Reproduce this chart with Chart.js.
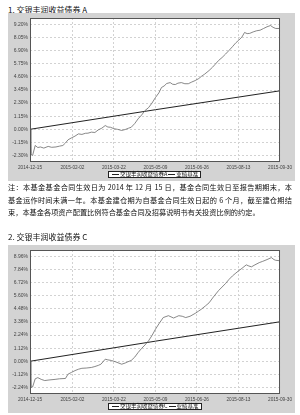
<!DOCTYPE html>
<html><head><meta charset="utf-8">
<script src="https://cdn.jsdelivr.net/npm/chart.js@4"></script>
<style>
body{margin:0;width:300px;height:415px;position:relative;background:#fff;font-family:"Noto Sans CJK SC",sans-serif;color:#111;overflow:hidden}
.t{position:absolute;left:8px;font-size:8px;line-height:10px}
.box{position:absolute;left:8px}
.lg{position:absolute;left:108px;border:1px solid #222;background:#fff;font-size:5.5px;line-height:5px;height:5px;padding:0 2px;white-space:nowrap;display:flex;align-items:center}
.lg i{display:inline-block;width:7px;height:0;border-top:1px solid #222;margin:0 1px}
.note{position:absolute;left:8px;width:284px;font-size:7.2px;line-height:12.5px}
.note div{text-align:justify;text-align-last:justify}
.note div.last{text-align-last:left}
</style></head><body>
<div class="t" style="top:5px">1. 交银丰润收益债券 A</div>
<canvas id="c1" class="box" width="287" height="168" style="top:13px"></canvas>
<div class="lg" style="top:171px"><i></i>交银丰润收益债券A<i></i>业绩基准</div>
<div class="note" style="top:181px">
<div>注：本基金基金合同生效日为 2014 年 12 月 15 日，基金合同生效日至报告期期末，本</div>
<div>基金运作时间未满一年。本基金建仓期为自基金合同生效日起的 6 个月，截至建仓期结</div>
<div class="last">束，本基金各项资产配置比例符合基金合同及招募说明书有关投资比例的约定。</div>
</div>
<div class="t" style="top:232px">2. 交银丰润收益债券 C</div>
<canvas id="c2" class="box" width="287" height="168" style="top:245px"></canvas>
<div class="lg" style="top:403px"><i></i>交银丰润收益债券C<i></i>业绩基准</div>
<script>
// 日期刻度
const dateLabels = ['2014-12-15','2015-02-02','2015-03-22','2015-05-09','2015-06-26','2015-08-13','2015-09-30'];
const tickDays = [0,49,97,145,193,241,289];

const yTicksA = [-2.30,-1.15,0,1.15,2.30,3.45,4.60,5.75,6.90,8.05,9.20];
const yTicksC = [-2.24,-1.12,0,1.12,2.24,3.36,4.48,5.60,6.72,7.84,8.96];

// 交银丰润收益债券A
const daysA = [0,1,3,6,9,12,16,21,25,30,34,38,41,44,48,52,56,60,64,67,71,75,79,83,87,90,93,97,101,106,110,114,117,121,125,129,133,137,141,145,149,152,155,158,162,165,168,171,175,179,183,187,191,195,198,202,207,211,214,218,222,226,230,234,238,241,245,248,251,254,258,262,266,270,274,278,281,284,289];
const fundA = [0,-2.15,-2.3,-1.42,-1.6,-1.55,-1.65,-1.5,-1.58,-1.55,-1.48,-1.42,-1.2,-0.92,-0.75,-0.6,-0.4,-0.45,-0.35,-0.34,-0.25,-0.28,-0.05,0.1,0.33,0.2,0.18,0.05,0,-0.1,-0.02,0.1,0.18,0.5,0.92,1.25,1.65,1.9,2.3,2.79,3.2,3.67,3.8,4.02,4.1,3.95,3.93,4.05,4.1,4.0,4.0,4.15,4.28,4.45,4.64,4.85,5.16,5.45,5.7,6.04,6.3,6.6,6.92,7.25,7.6,7.8,8.1,8.5,8.4,8.42,8.55,8.65,8.7,8.85,9.0,9.11,8.95,8.85,8.85];

// 交银丰润收益债券C
const daysC = [0,1,3,6,9,13,17,22,29,34,41,44,48,52,56,60,65,71,75,79,82,87,90,94,99,106,110,113,117,121,125,129,133,137,141,145,149,154,160,163,166,169,172,176,180,185,191,195,198,203,207,212,218,222,226,230,234,238,241,245,250,253,256,260,265,269,274,279,282,284,289];
const fundC = [0,-2.24,-2.2,-1.5,-1.4,-1.55,-1.65,-1.6,-1.55,-1.5,-1.47,-1.1,-0.95,-0.8,-0.68,-0.6,-0.58,-0.53,-0.45,-0.35,-0.25,0.18,0.12,0.07,-0.05,-0.25,-0.15,-0.05,0.07,0.35,0.75,1.1,1.4,1.75,2.2,2.74,3.2,3.74,3.9,3.8,3.7,3.8,3.9,3.85,3.74,3.85,4.1,4.3,4.45,4.75,5.0,5.5,6.05,6.35,6.65,7.0,7.3,7.55,7.73,7.95,8.25,8.15,8.08,8.25,8.44,8.55,8.7,8.87,8.7,8.64,8.6];

// 业绩基准
const benchDays = [0,145,289];
const benchVals = [0,1.72,3.38];

const pts = (xs, ys) => xs.map((d,i)=>({x:d, y:ys[i]}));

const panel = {
  id:'panel',
  beforeDraw(c){
    const {ctx, chartArea:a} = c;
    ctx.save();
    ctx.fillStyle = '#d3d3d3';
    ctx.fillRect(0,0,c.width,c.height);
    ctx.fillStyle = '#fff';
    ctx.fillRect(a.left,a.top,a.right-a.left,a.bottom-a.top);
    ctx.restore();
  },
  afterDraw(c){
    const {ctx, chartArea:a} = c;
    ctx.save();
    ctx.strokeStyle = '#555';
    ctx.lineWidth = 1;
    ctx.strokeRect(a.left+0.5,a.top+0.5,a.right-a.left-1,a.bottom-a.top-1);
    ctx.restore();
  }
};

function makeChart(id, days, fund, yTicks, ymin, ymax, name){
  return new Chart(document.getElementById(id), {
    type:'line',
    data:{datasets:[
      {label:name, data:pts(days,fund), borderColor:'#6a6a6a', borderWidth:0.8},
      {label:'业绩基准', data:pts(benchDays,benchVals), borderColor:'#222', borderWidth:1}
    ]},
    options:{
      responsive:false, animation:false,
      elements:{point:{radius:0}, line:{tension:0}},
      layout:{padding:{left:0,right:14,top:4.5,bottom:0}},
      plugins:{legend:{display:false}, tooltip:{enabled:false}},
      scales:{
        x:{type:'linear', min:0, max:289,
          afterBuildTicks:s=>{ s.ticks = tickDays.map(v=>({value:v})); },
          afterFit:s=>{ s.height = 19; },
          ticks:{font:{size:4.7,family:'Liberation Sans'}, color:'#444', padding:3, maxRotation:0, autoSkip:false,
            callback:(v,i)=>dateLabels[i]},
          grid:{color:'#d2d2d2', drawTicks:false},
          border:{display:false, dash:[2,2]}
        },
        y:{min:ymin, max:ymax,
          afterBuildTicks:s=>{ s.ticks = yTicks.map(v=>({value:v})); },
          afterFit:s=>{ s.width = 22; },
          ticks:{font:{size:5,family:'Liberation Sans'}, color:'#444', padding:2,
            callback:v=>v.toFixed(2)+'%'},
          grid:{color:'#d2d2d2', drawTicks:false},
          border:{display:false, dash:[2,2]}
        }
      }
    },
    plugins:[panel]
  });
}

makeChart('c1', daysA, fundA, yTicksA, -2.87, 9.77, '交银丰润收益债券A');
makeChart('c2', daysC, fundC, yTicksC, -2.80, 9.52, '交银丰润收益债券C');
</script>
</body></html>
